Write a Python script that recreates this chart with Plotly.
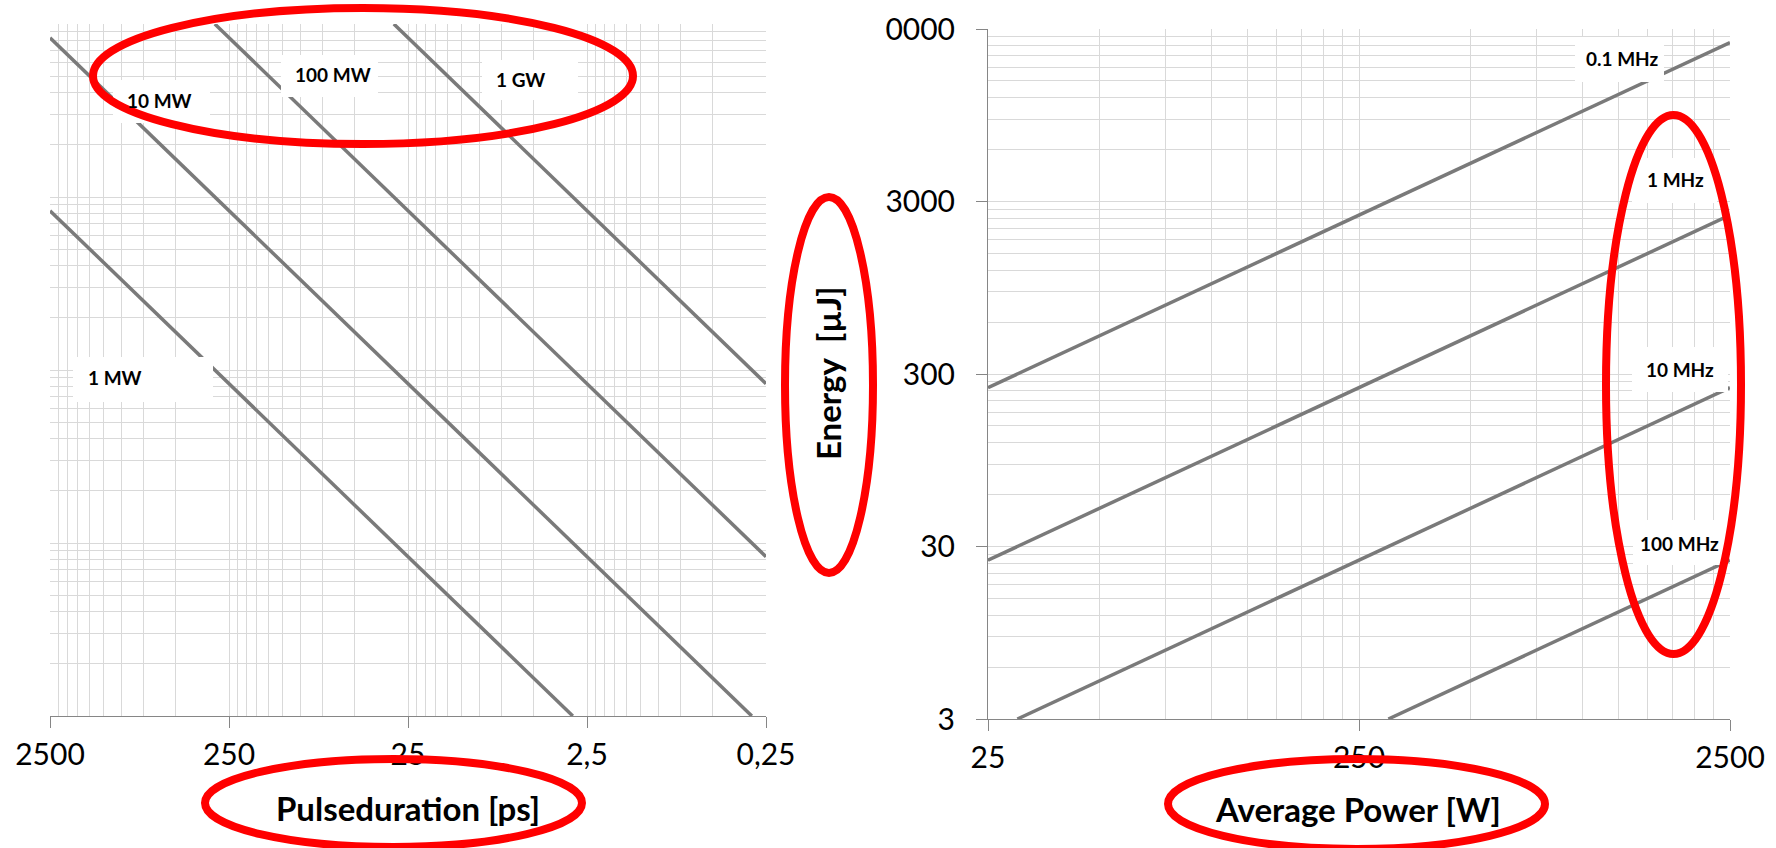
import plotly.graph_objects as go

W, H = 1776, 848

# ---------------- data ----------------
pulse_tick_vals = [2500, 250, 25, 2.5, 0.25]
pulse_tick_text = ["2500", "250", "25", "2,5", "0,25"]
power_tick_vals = [25, 250, 2500]
power_tick_text = ["25", "250", "2500"]
energy_tick_vals = [3, 30, 300, 3000, 30000]
energy_tick_text = ["3", "30", "300", "3000", "0000"]

peak_labels = ["1 MW", "10 MW", "100 MW", "1 GW"]
peak_duration_ps = [
    [2500, 250, 25, 3],
    [2500, 250, 25, 2.5, 0.3],
    [300, 25, 2.5, 0.25],
    [30, 2.5, 0.25],
]
peak_energy_uJ = [
    [2500, 250, 25, 3],
    [25000, 2500, 250, 25, 3],
    [30000, 2500, 250, 25],
    [30000, 2500, 250],
]

rep_labels = ["0.1 MHz", "1 MHz", "10 MHz", "100 MHz"]
rep_power_W = [
    [25, 250, 2500],
    [25, 250, 2500],
    [30, 250, 2500],
    [300, 2500],
]
rep_energy_uJ = [
    [250, 2500, 25000],
    [25, 250, 2500],
    [3, 25, 250],
    [3, 25],
]

# ---------------- styling / layout helpers ----------------
FONT = "Lato, 'Open Sans', sans-serif"
GRID = "#d9d9d9"
AXIS = "#868686"
LINE = "#7a7a7a"


def px(x):
    return x / W


def py(y):
    return 1 - y / H


def minor_vals(start, decades):
    return [start * (10 ** k) * m for k in range(decades) for m in range(2, 10)]


fig = go.Figure()

for lab, xs, ys in zip(peak_labels, peak_duration_ps, peak_energy_uJ):
    fig.add_trace(go.Scatter(x=xs, y=ys, mode="lines", name=lab,
                             line=dict(color=LINE, width=3.5),
                             xaxis="x", yaxis="y", showlegend=False))

for lab, xs, ys in zip(rep_labels, rep_power_W, rep_energy_uJ):
    fig.add_trace(go.Scatter(x=xs, y=ys, mode="lines", name=lab,
                             line=dict(color=LINE, width=3.5),
                             xaxis="x2", yaxis="y2", showlegend=False))

tickfont = dict(family=FONT, size=30, color="#000000")

fig.update_layout(
    width=W, height=H,
    margin=dict(l=0, r=0, t=0, b=0, pad=0, autoexpand=False),
    paper_bgcolor="white", plot_bgcolor="white",
    showlegend=False,
    xaxis=dict(
        type="log", domain=[px(50), px(766)],
        range=[3.39794, -0.60206], automargin=False,
        tickmode="array", tickvals=pulse_tick_vals, ticktext=pulse_tick_text,
        ticks="outside", ticklen=11, tickcolor=AXIS, tickwidth=1,
        showline=True, linecolor=AXIS, linewidth=1,
        showgrid=True, gridcolor=GRID, gridwidth=1, zeroline=False,
        tickfont=tickfont, ticklabelstandoff=1,
        minor=dict(tickmode="array", tickvals=minor_vals(0.25, 4),
                   showgrid=True, gridcolor=GRID, gridwidth=1, ticks=""),
        anchor="y",
    ),
    yaxis=dict(
        type="log", domain=[py(716), py(24)],
        range=[0.47712, 4.47712], automargin=False,
        tickmode="array", tickvals=energy_tick_vals,
        showticklabels=False, ticks="", showline=False,
        showgrid=True, gridcolor=GRID, gridwidth=1, zeroline=False,
        minor=dict(tickmode="array", tickvals=minor_vals(3, 4),
                   showgrid=True, gridcolor=GRID, gridwidth=1, ticks=""),
        anchor="x",
    ),
    xaxis2=dict(
        type="log", domain=[px(988), px(1730)],
        range=[1.39794, 3.39794], automargin=False,
        tickmode="array", tickvals=power_tick_vals, ticktext=power_tick_text,
        ticks="outside", ticklen=11, tickcolor=AXIS, tickwidth=1,
        showline=True, linecolor=AXIS, linewidth=1,
        showgrid=True, gridcolor=GRID, gridwidth=1, zeroline=False,
        tickfont=tickfont, ticklabelstandoff=1,
        minor=dict(tickmode="array", tickvals=minor_vals(25, 2),
                   showgrid=True, gridcolor=GRID, gridwidth=1, ticks=""),
        anchor="y2",
    ),
    yaxis2=dict(
        type="log", domain=[py(719), py(29)],
        range=[0.47712, 4.47712], automargin=False,
        tickmode="array", tickvals=energy_tick_vals, ticktext=energy_tick_text,
        ticks="outside", ticklen=11, tickcolor=AXIS, tickwidth=1,
        showline=True, linecolor=AXIS, linewidth=1,
        showgrid=True, gridcolor=GRID, gridwidth=1, zeroline=False,
        tickfont=tickfont, ticklabelstandoff=15,
        minor=dict(tickmode="array", tickvals=minor_vals(3, 4),
                   showgrid=True, gridcolor=GRID, gridwidth=1, ticks=""),
        anchor="x2",
    ),
)

# ---------------- data labels (white boxes + bold text) ----------------
# (text, text centre x, y, box x0, x1, y0, y1) in pixels
label_boxes = [
    (peak_labels[0], 115, 378, 73, 213, 357, 402),
    (peak_labels[1], 159, 101, 113, 210, 80, 123),
    (peak_labels[2], 333, 75, 281, 378, 55, 97),
    (peak_labels[3], 520, 79, 482, 578, 60, 100),
    (rep_labels[0], 1622, 59, 1575, 1664, 37, 82),
    (rep_labels[1], 1675, 179, 1632, 1717, 158, 203),
    (rep_labels[2], 1680, 369, 1632, 1728, 347, 392),
    (rep_labels[3], 1679, 543, 1633, 1728, 520, 565),
]

shapes = []
annotations = []
for txt, tx, ty, x0, x1, y0, y1 in label_boxes:
    shapes.append(dict(type="rect", xref="paper", yref="paper",
                       x0=px(x0), x1=px(x1), y0=py(y1), y1=py(y0),
                       fillcolor="white", line=dict(width=0), layer="above"))
    annotations.append(dict(text=txt, xref="paper", yref="paper",
                            x=px(tx), y=py(ty), xanchor="center", yanchor="middle",
                            showarrow=False,
                            font=dict(family=FONT, size=19, color="#000000", weight="bold")))

# axis titles
title_font = dict(family=FONT, size=33, color="#000000", weight="bold")
annotations.append(dict(text="Pulseduration [ps]", xref="paper", yref="paper",
                        x=px(408), y=py(808), xanchor="center", yanchor="middle",
                        showarrow=False, font=title_font))
annotations.append(dict(text="Average Power [W]", xref="paper", yref="paper",
                        x=px(1358), y=py(809), xanchor="center", yanchor="middle",
                        showarrow=False, font=title_font))
annotations.append(dict(text="Energy\u00a0\u00a0[µJ]", xref="paper", yref="paper",
                        x=px(828), y=py(373), xanchor="center", yanchor="middle",
                        textangle=-90, showarrow=False, font=title_font))

# red highlight ellipses (stroke centre, pixels)
ellipses = [
    (93, 633, 8, 144),
    (785, 873, 197, 573),
    (1606, 1741, 115, 654),
    (205, 582, 759, 847),
    (1168, 1545, 759, 849),
]
for x0, x1, y0, y1 in ellipses:
    shapes.append(dict(type="circle", xref="paper", yref="paper",
                       x0=px(x0), x1=px(x1), y0=py(y1), y1=py(y0),
                       line=dict(color="#ff0000", width=8), layer="above"))

fig.update_layout(shapes=shapes, annotations=annotations)

fig.write_html("out.html")
